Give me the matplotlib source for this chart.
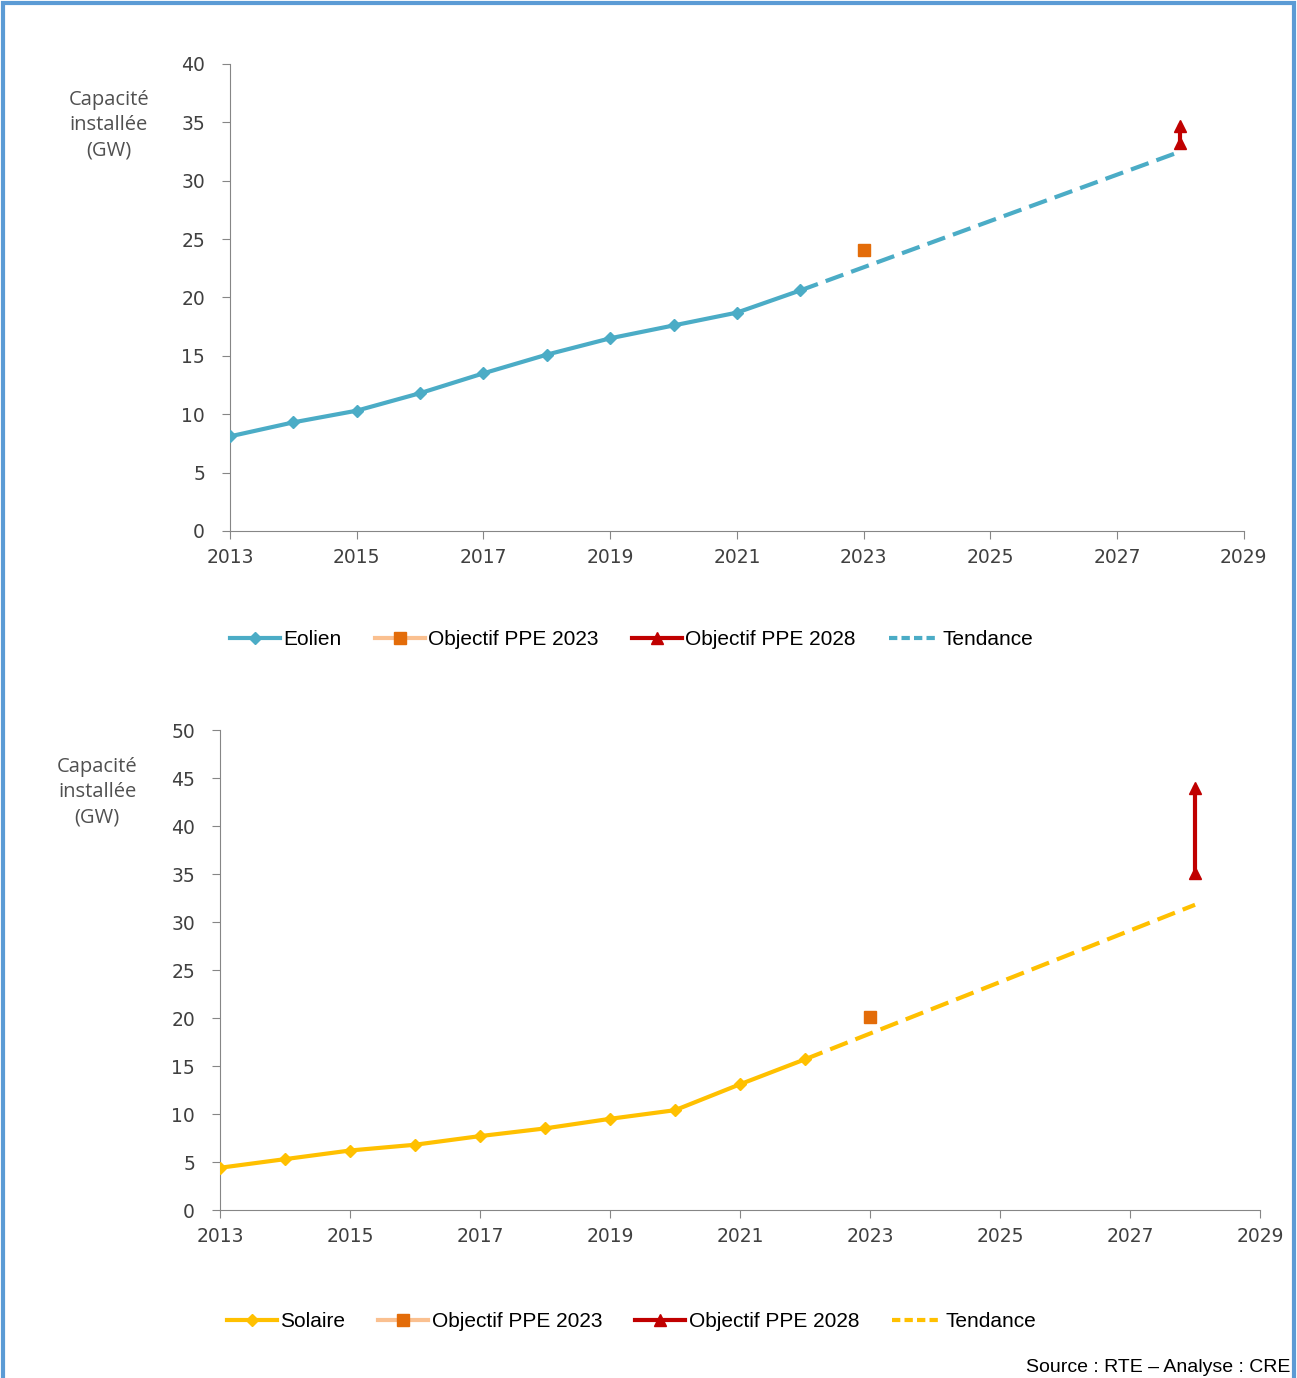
import numpy as np
import matplotlib.pyplot as plt
from matplotlib.lines import Line2D
from matplotlib.patches import Rectangle

# data
years = [2013, 2014, 2015, 2016, 2017, 2018, 2019, 2020, 2021, 2022]
eolien = [8.1, 9.3, 10.3, 11.8, 13.5, 15.1, 16.5, 17.6, 18.7, 20.6]
solaire = [4.4, 5.3, 6.2, 6.8, 7.7, 8.5, 9.5, 10.4, 13.1, 15.7]

ppe2023_year = 2023
eolien_ppe2023 = 24.1
solaire_ppe2023 = 20.1

ppe2028_year = 2028
eolien_ppe2028 = [33.2, 34.7]
solaire_ppe2028 = [35.1, 44.0]

tend_years = [2022, 2028]
eolien_tend = [20.6, 32.5]
solaire_tend = [15.7, 31.8]

xticks = [2013, 2015, 2017, 2019, 2021, 2023, 2025, 2027, 2029]

C_EOL = "#4BACC6"
C_SOL = "#FFC000"
C_SQ = "#E36C09"
C_SQ_LINE = "#FAC090"
C_RED = "#C00000"
GRAY = "#404040"

fig = plt.figure(figsize=(12.97, 13.78), dpi=100)

fig.patches.append(Rectangle((0.002, -0.05), 0.996, 1.048, transform=fig.transFigure,
                             fill=False, edgecolor="#5B9BD5", linewidth=3))


def draw(ax, vals, ppe23, ppe28, tend, color, ymax, name, ylab_xy, leg_y):
    ax.plot(years, vals, color=color, lw=3, marker="D", ms=6, zorder=3)
    ax.plot(tend_years, tend, color=color, lw=3, ls=(0, (4.5, 2)), zorder=2)
    ax.plot([ppe2023_year], [ppe23], ls="none", marker="s", ms=9, color=C_SQ, zorder=4)
    ax.plot([ppe2028_year, ppe2028_year], ppe28, color=C_RED, lw=3, marker="^", ms=9, zorder=4)
    ax.set_xlim(2013, 2029)
    ax.set_ylim(0, ymax)
    ax.set_xticks(xticks)
    ax.set_yticks(np.arange(0, ymax + 1, 5))
    for s in ["top", "right"]:
        ax.spines[s].set_visible(False)
    for s in ["left", "bottom"]:
        ax.spines[s].set_color("#868686")
    ax.tick_params(colors="#868686", labelcolor=GRAY, labelsize=13.5, length=6, direction="out")
    ax.tick_params(axis="x", pad=6)
    ax.tick_params(axis="y", pad=12)
    for lab in ax.get_xticklabels() + ax.get_yticklabels():
        lab.set_family("DejaVu Sans")
    fig.text(ylab_xy[0], ylab_xy[1], "Capacité\ninstallée\n(GW)", ha="center", va="center",
             color="#505050", fontsize=14.5, family="Open Sans", linespacing=1.35)
    handles = [
        Line2D([], [], color=color, lw=3, marker="D", ms=6),
        Line2D([], [], color=C_SQ_LINE, lw=3, marker="s", ms=9, mfc=C_SQ, mec=C_SQ),
        Line2D([], [], color=C_RED, lw=3, marker="^", ms=8),
        Line2D([], [], color=color, lw=3, ls=(0, (2, 1))),
    ]
    labels = [name, "Objectif PPE 2023", "Objectif PPE 2028", "Tendance"]
    fig.legend(handles, labels, loc="center", bbox_to_anchor=(0.487, leg_y), ncol=4,
               frameon=False, prop={"family": "Liberation Sans", "size": 15},
               handlelength=2.4, handletextpad=0.15, columnspacing=1.6)


ax1 = fig.add_axes([0.1773, 0.6147, 0.7817, 0.3389])
draw(ax1, eolien, eolien_ppe2023, eolien_ppe2028, eolien_tend, C_EOL, 40, "Eolien",
     (0.084, 0.909), 0.536)

ax2 = fig.add_axes([0.1696, 0.1219, 0.8019, 0.3483])
draw(ax2, solaire, solaire_ppe2023, solaire_ppe2028, solaire_tend, C_SOL, 50, "Solaire",
     (0.075, 0.425), 0.041)

fig.text(0.995, 0.0075, "Source : RTE \u2013 Analyse : CRE", ha="right", va="center",
         fontsize=14, family="Liberation Sans", color="black")

fig.savefig("out.png", dpi=100)
plt.close(fig)
